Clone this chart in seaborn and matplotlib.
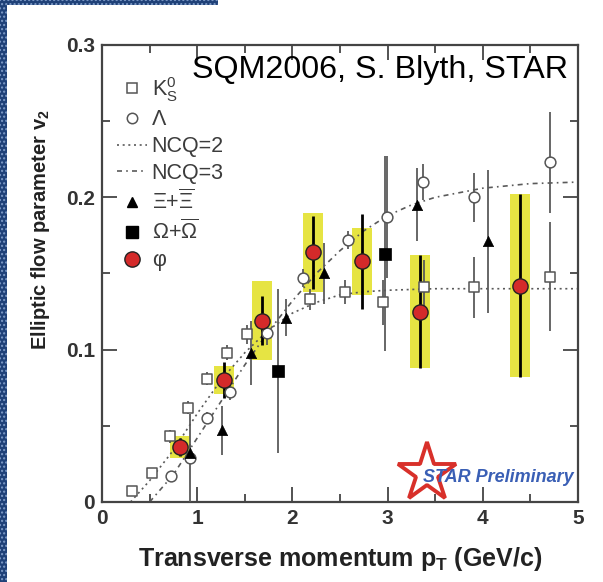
import numpy as np
import pandas as pd
import matplotlib
matplotlib.use("Agg")
import matplotlib.pyplot as plt
from matplotlib.lines import Line2D
from matplotlib.patches import Rectangle
import seaborn as sns

# ---------------- data ----------------
phi_pt = [0.82, 1.28, 1.68, 2.22, 2.73, 3.34, 4.39]
phi_v2 = [0.036, 0.080, 0.119, 0.164, 0.158, 0.125, 0.142]
phi_err = [0.006, 0.012, 0.016, 0.024, 0.031, 0.037, 0.060]
phi_sys = [0.007, 0.009, 0.026, 0.026, 0.022, 0.037, 0.060]

k0s_pt = [0.32, 0.53, 0.71, 0.90, 1.10, 1.31, 1.52, 2.18, 2.55, 2.95, 3.38, 3.91, 4.71]
k0s_v2 = [0.007, 0.019, 0.043, 0.062, 0.081, 0.098, 0.110, 0.133, 0.138, 0.131, 0.141, 0.141, 0.148]
k0s_err = [0.003, 0.003, 0.004, 0.004, 0.004, 0.005, 0.006, 0.007, 0.008, 0.015, 0.018, 0.020, 0.036]

lam_pt = [0.72, 0.92, 1.10, 1.34, 1.73, 2.11, 2.58, 2.99, 3.37, 3.91, 4.71]
lam_v2 = [0.017, 0.029, 0.055, 0.072, 0.111, 0.147, 0.172, 0.187, 0.210, 0.200, 0.223]
lam_err = [0.003, 0.029, 0.004, 0.005, 0.008, 0.006, 0.006, 0.040, 0.012, 0.016, 0.033]

xi_pt = [0.92, 1.26, 1.56, 1.93, 2.33, 3.31, 4.05]
xi_v2 = [0.032, 0.047, 0.098, 0.121, 0.150, 0.195, 0.171]
xi_err = [0.006, 0.016, 0.021, 0.012, 0.020, 0.024, 0.047]

om_pt = [1.85, 2.97]
om_v2 = [0.086, 0.163]
om_err = [0.054, 0.064]

ncq2_pt = [0.30, 0.50, 0.75, 1.00, 1.25, 1.50, 1.75, 2.00, 2.25, 2.50, 2.75, 3.00, 3.50, 4.00, 4.50, 5.00]
ncq2_v2 = [0.000, 0.014, 0.034, 0.058, 0.080, 0.098, 0.113, 0.124, 0.131, 0.136, 0.138, 0.139, 0.140, 0.140, 0.140, 0.140]

ncq3_pt = [0.50, 0.75, 1.00, 1.25, 1.50, 1.75, 2.00, 2.25, 2.50, 2.75, 3.00, 3.25, 3.50, 4.00, 4.50, 5.00]
ncq3_v2 = [0.000, 0.018, 0.042, 0.066, 0.090, 0.112, 0.132, 0.150, 0.165, 0.178, 0.188, 0.195, 0.200, 0.206, 0.209, 0.210]

x_ticks = [0, 1, 2, 3, 4, 5]
x_ticklabels = ["0", "1", "2", "3", "4", "5"]
y_ticks = [0.0, 0.1, 0.2, 0.3]
y_ticklabels = ["0", "0.1", "0.2", "0.3"]

legend_labels = [r"K$^0_S$", "Λ", "NCQ=2", "NCQ=3",
                 r"$\Xi$+$\overline{\Xi}$", r"$\Omega$+$\overline{\Omega}$", "φ"]

# ---------------- style ----------------
sns.set_theme(style="ticks")
plt.rcParams["font.family"] = ["Liberation Sans", "DejaVu Sans"]
plt.rcParams["mathtext.fontset"] = "custom"
plt.rcParams["mathtext.rm"] = "Liberation Sans"
plt.rcParams["mathtext.it"] = "Liberation Sans"
plt.rcParams["mathtext.bf"] = "Liberation Sans:bold"

fig = plt.figure(figsize=(6.03, 5.82), dpi=100)
fig.patch.set_facecolor("white")
ax = fig.add_axes([0.1692, 0.1375, 0.7894, 0.7852])
ax.set_facecolor("white")

gray = "#5a5a5a"

# NCQ curves
sns.lineplot(x=ncq2_pt, y=ncq2_v2, ax=ax, color=gray, linewidth=1.2,
             linestyle=(0, (1.2, 2.2)), estimator=None, sort=False, zorder=2)
sns.lineplot(x=ncq3_pt, y=ncq3_v2, ax=ax, color=gray, linewidth=1.2,
             linestyle=(0, (3, 2.5, 1, 2.5)), estimator=None, sort=False, zorder=2)

# phi systematic boxes
ax.bar(phi_pt, [2 * s for s in phi_sys], bottom=[v - s for v, s in zip(phi_v2, phi_sys)],
       width=0.21, color="#e4e22e", alpha=0.9, linewidth=0, zorder=1)

# error bars of open/filled particles
ax.errorbar(k0s_pt, k0s_v2, yerr=k0s_err, fmt="none", ecolor=gray, elinewidth=1.3, zorder=3)
ax.errorbar(lam_pt, lam_v2, yerr=lam_err, fmt="none", ecolor=gray, elinewidth=1.3, zorder=3)
ax.errorbar(xi_pt, xi_v2, yerr=xi_err, fmt="none", ecolor=gray, elinewidth=1.3, zorder=3)
ax.errorbar(om_pt, om_v2, yerr=om_err, fmt="none", ecolor=gray, elinewidth=1.3, zorder=3)
ax.errorbar(phi_pt, phi_v2, yerr=phi_err, fmt="none", ecolor="black", elinewidth=2.0, zorder=4)

# markers
sns.scatterplot(x=k0s_pt, y=k0s_v2, ax=ax, marker="s", s=55, facecolor="white",
                edgecolor="#555555", linewidth=1.1, zorder=5)
sns.scatterplot(x=lam_pt, y=lam_v2, ax=ax, marker="o", s=60, facecolor="white",
                edgecolor="#555555", linewidth=1.1, zorder=5)
sns.scatterplot(x=xi_pt, y=xi_v2, ax=ax, marker="^", s=55, color="black",
                edgecolor="black", linewidth=0.5, zorder=5)
sns.scatterplot(x=om_pt, y=om_v2, ax=ax, marker="s", s=75, color="black",
                edgecolor="black", linewidth=0.5, zorder=5)
sns.scatterplot(x=phi_pt, y=phi_v2, ax=ax, marker="o", s=120, color="#d42a2a",
                edgecolor="#222222", linewidth=1.0, zorder=6)

# axes
ax.set_xlim(0, 5)
ax.set_ylim(0, 0.3)
ax.set_xticks(x_ticks)
ax.set_xticklabels(x_ticklabels)
ax.set_yticks(y_ticks)
ax.set_yticklabels(y_ticklabels)
ax.set_xticks(np.arange(0.5, 5, 1.0), minor=True)
ax.set_yticks(np.arange(0.05, 0.3, 0.1), minor=True)
ax.tick_params(which="both", direction="in", top=True, right=True, color="#444444", width=1.3)
ax.tick_params(which="major", length=11, labelsize=15, pad=5)
ax.tick_params(which="minor", length=6)
for lab in ax.get_xticklabels() + ax.get_yticklabels():
    lab.set_fontweight("bold")
    lab.set_color("#333333")
for sp in ax.spines.values():
    sp.set_linewidth(1.6)
    sp.set_color("#444444")

ax.set_xlabel(r"Transverse momentum p$_{\mathbf{T}}$ (GeV/c)", fontsize=18,
              fontweight="bold", color="#222222", labelpad=12)
ax.set_ylabel(r"Elliptic flow parameter v$_{\mathbf{2}}$", fontsize=14.5,
              fontweight="bold", color="#222222")
ax.yaxis.set_label_coords(-0.105, 0.597)

# legend
handles = [
    Line2D([], [], marker="s", ls="none", mfc="white", mec="#555555", ms=7.5, mew=1.1),
    Line2D([], [], marker="o", ls="none", mfc="white", mec="#555555", ms=7.5, mew=1.1),
    Line2D([], [], color=gray, lw=1.2, ls=(0, (1.2, 2.2))),
    Line2D([], [], color=gray, lw=1.2, ls=(0, (3, 2.5, 1, 2.5))),
    Line2D([], [], marker="^", ls="none", color="black", ms=7.5),
    Line2D([], [], marker="s", ls="none", color="black", ms=8.5),
    Line2D([], [], marker="o", ls="none", mfc="#d42a2a", mec="#222222", ms=11),
]
leg = ax.legend(handles, legend_labels, loc="upper left", bbox_to_anchor=(0.032, 0.935),
                frameon=False, fontsize=15.5, handlelength=1.4, handletextpad=0.2,
                labelspacing=0.27, borderpad=0, borderaxespad=0)
for t in leg.get_texts():
    t.set_color("#3c3c3c")

# annotation
ax.text(0.19, 0.946, "SQM2006, S. Blyth, STAR", transform=ax.transAxes, fontsize=23.2,
        color="black", va="center", ha="left")

# STAR preliminary logo
ax.plot([0.683], [0.063], transform=ax.transAxes, marker="*", ms=44, mfc="none",
        mec="#d8302a", mew=2.8, ls="none", zorder=7, clip_on=False)
ax.text(0.674, 0.0525, "STAR Preliminary", transform=ax.transAxes, fontsize=13,
        fontstyle="italic", fontweight="bold", color="#3a5fb5", va="center", ha="left", zorder=8)

# blue decorative border
fig.patches.append(Rectangle((0, 0), 7 / 603, 1, transform=fig.transFigure,
                             facecolor="#1f4178", edgecolor="#7f9cc8", hatch="....",
                             linewidth=0, zorder=0))
fig.patches.append(Rectangle((0, 1 - 5 / 582), 218 / 603, 5 / 582, transform=fig.transFigure,
                             facecolor="#1f4178", edgecolor="#7f9cc8", hatch="....",
                             linewidth=0, zorder=0))

fig.savefig("out.png", dpi=100)
